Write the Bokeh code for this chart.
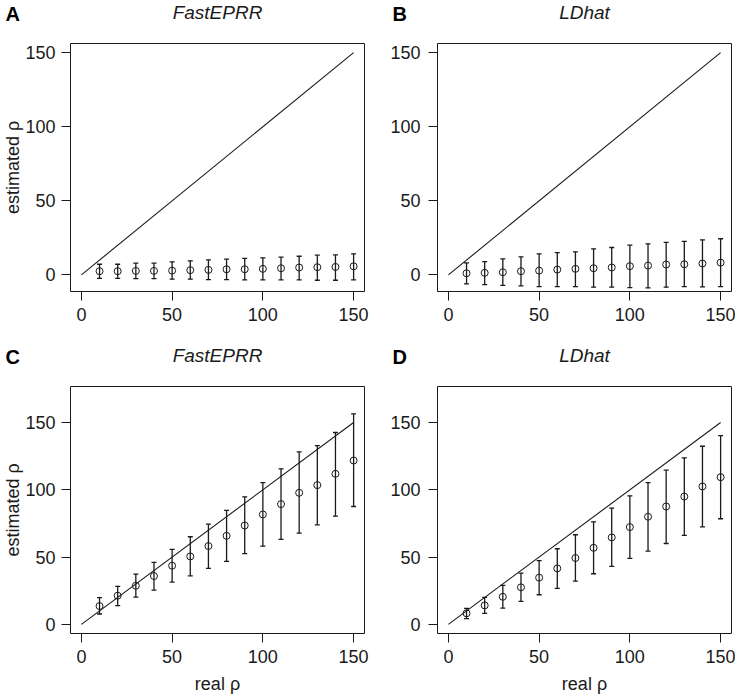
from bokeh.plotting import figure
from bokeh.models import Range1d, ColumnDataSource, Whisker, TeeHead, Label, FixedTicker
from bokeh.layouts import gridplot
from bokeh.embed import file_html
from bokeh.resources import INLINE

# ---- data ----
real_rho = [10, 20, 30, 40, 50, 60, 70, 80, 90, 100, 110, 120, 130, 140, 150]
diag_x = [0, 150]
diag_y = [0, 150]
tick_vals = [0, 50, 100, 150]

A_est = [2.5, 2.5, 2.7, 2.7, 2.9, 3.2, 3.4, 3.8, 3.8, 4.1, 4.5, 5.0, 5.2, 5.4, 5.8]
A_hi = [7.2, 7.2, 7.9, 7.9, 8.8, 9.5, 10.1, 10.6, 11.1, 11.5, 12.0, 12.6, 13.3, 13.5, 14.2]
A_lo = [-2.3, -2.3, -2.5, -2.5, -2.9, -2.9, -3.2, -3.2, -3.4, -3.4, -3.4, -3.4, -3.6, -3.6, -3.4]

B_est = [1.1, 1.4, 1.8, 2.5, 2.9, 3.6, 4.1, 4.5, 5.0, 5.9, 6.3, 7.0, 7.2, 7.7, 8.3]
B_hi = [8.1, 9.0, 10.8, 12.2, 14.2, 15.1, 15.6, 17.6, 18.5, 20.1, 21.0, 21.9, 22.6, 23.7, 24.4]
B_lo = [-6.1, -6.5, -7.0, -7.4, -7.9, -7.9, -7.9, -8.3, -8.3, -8.6, -8.8, -8.3, -7.9, -8.1, -7.9]

C_est = [13.6, 21.3, 28.7, 35.9, 43.6, 50.5, 58.2, 65.8, 73.5, 81.7, 89.4, 97.8, 103.5, 111.9, 121.8]
C_hi = [19.8, 28.2, 37.4, 46.0, 55.7, 65.1, 74.5, 84.7, 94.8, 105.4, 115.6, 128.2, 132.9, 142.6, 156.4]
C_lo = [7.7, 13.9, 20.3, 25.5, 31.4, 36.1, 41.6, 46.8, 52.5, 58.2, 63.1, 67.8, 74.0, 80.4, 87.6]

D_est = [8.2, 14.1, 20.5, 27.5, 34.7, 41.6, 49.3, 56.9, 64.6, 72.3, 80.0, 87.6, 95.0, 102.5, 109.4]
D_hi = [11.9, 20.0, 29.0, 38.1, 47.3, 56.2, 66.6, 76.2, 86.4, 95.5, 105.4, 114.6, 123.8, 132.4, 140.3]
D_lo = [4.2, 8.2, 12.1, 17.1, 22.0, 26.7, 32.2, 37.6, 43.1, 49.0, 54.5, 60.1, 66.1, 72.5, 78.5]

FONT = "Liberation Sans"
INK = "#1a1a1a"


def make_panel(letter, name, est, lo, hi, ylim, left_col, top_row):
    border_left = 65 if left_col else 62
    border_right = 11 if left_col else 4
    border_top = 43
    border_bottom = 52 if top_row else 62
    fh = 248 if top_row else 247
    p = figure(
        frame_width=294, frame_height=fh,
        min_border_left=border_left, min_border_right=border_right,
        min_border_top=border_top, min_border_bottom=border_bottom,
        x_range=Range1d(-6, 156), y_range=Range1d(*ylim),
        output_backend="svg", toolbar_location=None,
    )
    p.xgrid.visible = False
    p.ygrid.visible = False
    p.outline_line_color = INK
    p.outline_line_width = 1
    p.background_fill_color = "white"
    p.border_fill_color = "white"

    for ax in (p.xaxis[0], p.yaxis[0]):
        ax.ticker = FixedTicker(ticks=tick_vals)
        ax.axis_line_color = None
        ax.major_tick_line_color = INK
        ax.major_tick_out = 9
        ax.major_tick_in = 0
        ax.minor_tick_line_color = None
        ax.major_label_text_font = FONT
        ax.major_label_text_font_size = "18px"
        ax.major_label_text_color = INK
        ax.axis_label_text_font = FONT
        ax.axis_label_text_font_size = "18px"
        ax.axis_label_text_font_style = "normal"
        ax.axis_label_text_color = INK
    p.yaxis.major_label_orientation = "horizontal"
    p.yaxis.major_label_standoff = 6 if left_col else 8
    p.xaxis.major_label_standoff = 7
    if left_col:
        p.yaxis.axis_label = "estimated ρ"
        p.yaxis.axis_label_standoff = -1
    if not top_row:
        p.xaxis.axis_label = "real ρ"
        p.xaxis.axis_label_standoff = 8

    # program name as the plot title
    p.title.text = name
    p.title.align = "center"
    p.title.text_font = FONT
    p.title.text_font_style = "italic"
    p.title.text_font_size = "19px"
    p.title.text_color = INK
    p.title.standoff = -3

    # panel letter as a label in the top side panel (not clipped to the frame)
    lab = Label(x=(-border_left if left_col else -45), y=30, x_units="screen", y_units="screen",
                text=letter, text_font=FONT, text_font_style="bold", text_font_size="20px",
                text_color="black", text_baseline="alphabetic")
    p.add_layout(lab, "above")

    p.line(diag_x, diag_y, line_color=INK, line_width=1.1)

    src = ColumnDataSource(dict(x=real_rho, est=est, lo=lo, hi=hi))
    w = Whisker(source=src, base="x", upper="hi", lower="lo",
                line_color=INK, line_width=1.3,
                upper_head=TeeHead(size=5, line_color=INK, line_width=1.3),
                lower_head=TeeHead(size=5, line_color=INK, line_width=1.3))
    p.add_layout(w)
    p.scatter("x", "est", source=src, marker="circle", size=7,
              fill_color=None, line_color=INK, line_width=1)
    return p


top_lim = (-11.2, 156.2)
bot_lim = (-6.8, 176.8)
pA = make_panel("A", "FastEPRR", A_est, A_lo, A_hi, top_lim, True, True)
pB = make_panel("B", "LDhat", B_est, B_lo, B_hi, top_lim, False, True)
pC = make_panel("C", "FastEPRR", C_est, C_lo, C_hi, bot_lim, True, False)
pD = make_panel("D", "LDhat", D_est, D_lo, D_hi, bot_lim, False, False)

grid = gridplot([[pA, pB], [pC, pD]], toolbar_location=None)

open("out.html", "w").write(file_html(grid, INLINE))
